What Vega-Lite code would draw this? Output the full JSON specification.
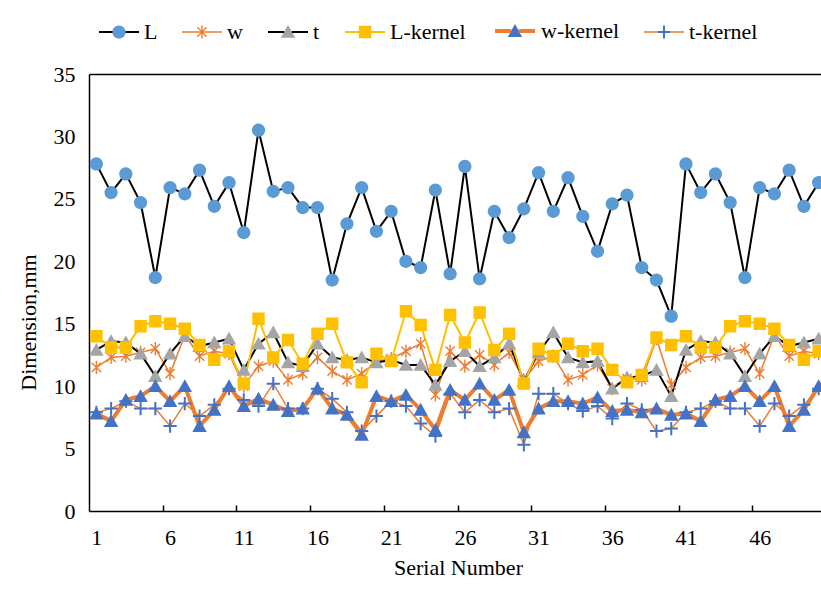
{
  "$schema": "https://vega.github.io/schema/vega-lite/v6.json",
  "autosize": {"type": "none"},
  "padding": {"left": 89, "top": 74, "right": 0, "bottom": 78},
  "width": 732,
  "height": 437,
  "background": "white",
  "config": {"view": {"stroke": null}},
  "data": {"values": [
    {"n":1,"s":"L","v":27.8},{"n":2,"s":"L","v":25.5},{"n":3,"s":"L","v":27.0},{"n":4,"s":"L","v":24.7},{"n":5,"s":"L","v":18.7},{"n":6,"s":"L","v":25.9},{"n":7,"s":"L","v":25.4},{"n":8,"s":"L","v":27.3},{"n":9,"s":"L","v":24.4},{"n":10,"s":"L","v":26.3},
    {"n":11,"s":"L","v":22.3},{"n":12,"s":"L","v":30.5},{"n":13,"s":"L","v":25.6},{"n":14,"s":"L","v":25.9},{"n":15,"s":"L","v":24.3},{"n":16,"s":"L","v":24.3},{"n":17,"s":"L","v":18.5},{"n":18,"s":"L","v":23.0},{"n":19,"s":"L","v":25.9},{"n":20,"s":"L","v":22.4},
    {"n":21,"s":"L","v":24.0},{"n":22,"s":"L","v":20.0},{"n":23,"s":"L","v":19.5},{"n":24,"s":"L","v":25.7},{"n":25,"s":"L","v":19.0},{"n":26,"s":"L","v":27.6},{"n":27,"s":"L","v":18.6},{"n":28,"s":"L","v":24.0},{"n":29,"s":"L","v":21.9},{"n":30,"s":"L","v":24.2},
    {"n":31,"s":"L","v":27.1},{"n":32,"s":"L","v":24.0},{"n":33,"s":"L","v":26.7},{"n":34,"s":"L","v":23.6},{"n":35,"s":"L","v":20.8},{"n":36,"s":"L","v":24.6},{"n":37,"s":"L","v":25.3},{"n":38,"s":"L","v":19.5},{"n":39,"s":"L","v":18.5},{"n":40,"s":"L","v":15.6},
    {"n":41,"s":"L","v":27.8},{"n":42,"s":"L","v":25.5},{"n":43,"s":"L","v":27.0},{"n":44,"s":"L","v":24.7},{"n":45,"s":"L","v":18.7},{"n":46,"s":"L","v":25.9},{"n":47,"s":"L","v":25.4},{"n":48,"s":"L","v":27.3},{"n":49,"s":"L","v":24.4},{"n":50,"s":"L","v":26.3},

    {"n":1,"s":"w","v":11.5},{"n":2,"s":"w","v":12.3},{"n":3,"s":"w","v":12.4},{"n":4,"s":"w","v":12.7},{"n":5,"s":"w","v":13.0},{"n":6,"s":"w","v":11.0},{"n":7,"s":"w","v":14.1},{"n":8,"s":"w","v":12.4},{"n":9,"s":"w","v":12.8},{"n":10,"s":"w","v":12.6},
    {"n":11,"s":"w","v":10.0},{"n":12,"s":"w","v":11.6},{"n":13,"s":"w","v":12.0},{"n":14,"s":"w","v":10.5},{"n":15,"s":"w","v":11.0},{"n":16,"s":"w","v":12.3},{"n":17,"s":"w","v":11.2},{"n":18,"s":"w","v":10.5},{"n":19,"s":"w","v":11.0},{"n":20,"s":"w","v":12.0},
    {"n":21,"s":"w","v":12.2},{"n":22,"s":"w","v":12.8},{"n":23,"s":"w","v":13.4},{"n":24,"s":"w","v":9.3},{"n":25,"s":"w","v":12.8},{"n":26,"s":"w","v":11.6},{"n":27,"s":"w","v":12.5},{"n":28,"s":"w","v":11.7},{"n":29,"s":"w","v":12.7},{"n":30,"s":"w","v":10.5},
    {"n":31,"s":"w","v":12.0},{"n":32,"s":"w","v":12.4},{"n":33,"s":"w","v":10.5},{"n":34,"s":"w","v":10.9},{"n":35,"s":"w","v":11.7},{"n":36,"s":"w","v":9.8},{"n":37,"s":"w","v":10.6},{"n":38,"s":"w","v":10.5},{"n":39,"s":"w","v":13.8},{"n":40,"s":"w","v":10.1},
    {"n":41,"s":"w","v":11.5},{"n":42,"s":"w","v":12.3},{"n":43,"s":"w","v":12.4},{"n":44,"s":"w","v":12.7},{"n":45,"s":"w","v":13.0},{"n":46,"s":"w","v":11.0},{"n":47,"s":"w","v":14.1},{"n":48,"s":"w","v":12.4},{"n":49,"s":"w","v":12.8},{"n":50,"s":"w","v":12.6},

    {"n":1,"s":"t","v":12.9},{"n":2,"s":"t","v":13.6},{"n":3,"s":"t","v":13.5},{"n":4,"s":"t","v":12.6},{"n":5,"s":"t","v":10.8},{"n":6,"s":"t","v":12.6},{"n":7,"s":"t","v":14.0},{"n":8,"s":"t","v":13.2},{"n":9,"s":"t","v":13.5},{"n":10,"s":"t","v":13.8},
    {"n":11,"s":"t","v":11.3},{"n":12,"s":"t","v":13.4},{"n":13,"s":"t","v":14.3},{"n":14,"s":"t","v":11.9},{"n":15,"s":"t","v":11.6},{"n":16,"s":"t","v":13.4},{"n":17,"s":"t","v":12.3},{"n":18,"s":"t","v":12.1},{"n":19,"s":"t","v":12.3},{"n":20,"s":"t","v":11.9},
    {"n":21,"s":"t","v":12.1},{"n":22,"s":"t","v":11.7},{"n":23,"s":"t","v":11.7},{"n":24,"s":"t","v":10.1},{"n":25,"s":"t","v":12.0},{"n":26,"s":"t","v":12.8},{"n":27,"s":"t","v":11.6},{"n":28,"s":"t","v":12.3},{"n":29,"s":"t","v":13.4},{"n":30,"s":"t","v":10.4},
    {"n":31,"s":"t","v":12.7},{"n":32,"s":"t","v":14.3},{"n":33,"s":"t","v":12.3},{"n":34,"s":"t","v":11.9},{"n":35,"s":"t","v":12.0},{"n":36,"s":"t","v":9.8},{"n":37,"s":"t","v":10.7},{"n":38,"s":"t","v":10.8},{"n":39,"s":"t","v":11.3},{"n":40,"s":"t","v":9.2},
    {"n":41,"s":"t","v":12.9},{"n":42,"s":"t","v":13.6},{"n":43,"s":"t","v":13.5},{"n":44,"s":"t","v":12.6},{"n":45,"s":"t","v":10.8},{"n":46,"s":"t","v":12.6},{"n":47,"s":"t","v":14.0},{"n":48,"s":"t","v":13.2},{"n":49,"s":"t","v":13.5},{"n":50,"s":"t","v":13.8},

    {"n":1,"s":"L-kernel","v":14.0},{"n":2,"s":"L-kernel","v":13.1},{"n":3,"s":"L-kernel","v":13.1},{"n":4,"s":"L-kernel","v":14.8},{"n":5,"s":"L-kernel","v":15.2},{"n":6,"s":"L-kernel","v":15.0},{"n":7,"s":"L-kernel","v":14.6},{"n":8,"s":"L-kernel","v":13.3},{"n":9,"s":"L-kernel","v":12.1},{"n":10,"s":"L-kernel","v":12.8},
    {"n":11,"s":"L-kernel","v":10.2},{"n":12,"s":"L-kernel","v":15.4},{"n":13,"s":"L-kernel","v":12.3},{"n":14,"s":"L-kernel","v":13.7},{"n":15,"s":"L-kernel","v":11.8},{"n":16,"s":"L-kernel","v":14.2},{"n":17,"s":"L-kernel","v":15.0},{"n":18,"s":"L-kernel","v":11.9},{"n":19,"s":"L-kernel","v":10.3},{"n":20,"s":"L-kernel","v":12.6},
    {"n":21,"s":"L-kernel","v":12.0},{"n":22,"s":"L-kernel","v":16.0},{"n":23,"s":"L-kernel","v":14.9},{"n":24,"s":"L-kernel","v":11.3},{"n":25,"s":"L-kernel","v":15.7},{"n":26,"s":"L-kernel","v":13.5},{"n":27,"s":"L-kernel","v":15.9},{"n":28,"s":"L-kernel","v":12.9},{"n":29,"s":"L-kernel","v":14.2},{"n":30,"s":"L-kernel","v":10.2},
    {"n":31,"s":"L-kernel","v":13.0},{"n":32,"s":"L-kernel","v":12.4},{"n":33,"s":"L-kernel","v":13.4},{"n":34,"s":"L-kernel","v":12.8},{"n":35,"s":"L-kernel","v":13.0},{"n":36,"s":"L-kernel","v":11.3},{"n":37,"s":"L-kernel","v":10.3},{"n":38,"s":"L-kernel","v":10.9},{"n":39,"s":"L-kernel","v":13.9},{"n":40,"s":"L-kernel","v":13.3},
    {"n":41,"s":"L-kernel","v":14.0},{"n":42,"s":"L-kernel","v":13.1},{"n":43,"s":"L-kernel","v":13.1},{"n":44,"s":"L-kernel","v":14.8},{"n":45,"s":"L-kernel","v":15.2},{"n":46,"s":"L-kernel","v":15.0},{"n":47,"s":"L-kernel","v":14.6},{"n":48,"s":"L-kernel","v":13.3},{"n":49,"s":"L-kernel","v":12.1},{"n":50,"s":"L-kernel","v":12.8},

    {"n":1,"s":"w-kernel","v":7.8},{"n":2,"s":"w-kernel","v":7.2},{"n":3,"s":"w-kernel","v":8.9},{"n":4,"s":"w-kernel","v":9.2},{"n":5,"s":"w-kernel","v":10.0},{"n":6,"s":"w-kernel","v":8.8},{"n":7,"s":"w-kernel","v":10.0},{"n":8,"s":"w-kernel","v":6.8},{"n":9,"s":"w-kernel","v":8.1},{"n":10,"s":"w-kernel","v":10.0},
    {"n":11,"s":"w-kernel","v":8.4},{"n":12,"s":"w-kernel","v":9.0},{"n":13,"s":"w-kernel","v":8.5},{"n":14,"s":"w-kernel","v":8.0},{"n":15,"s":"w-kernel","v":8.2},{"n":16,"s":"w-kernel","v":9.8},{"n":17,"s":"w-kernel","v":8.2},{"n":18,"s":"w-kernel","v":7.7},{"n":19,"s":"w-kernel","v":6.1},{"n":20,"s":"w-kernel","v":9.2},
    {"n":21,"s":"w-kernel","v":8.8},{"n":22,"s":"w-kernel","v":9.3},{"n":23,"s":"w-kernel","v":8.1},{"n":24,"s":"w-kernel","v":6.5},{"n":25,"s":"w-kernel","v":9.7},{"n":26,"s":"w-kernel","v":8.9},{"n":27,"s":"w-kernel","v":10.2},{"n":28,"s":"w-kernel","v":8.9},{"n":29,"s":"w-kernel","v":9.7},{"n":30,"s":"w-kernel","v":6.3},
    {"n":31,"s":"w-kernel","v":8.2},{"n":32,"s":"w-kernel","v":8.8},{"n":33,"s":"w-kernel","v":8.8},{"n":34,"s":"w-kernel","v":8.6},{"n":35,"s":"w-kernel","v":9.1},{"n":36,"s":"w-kernel","v":8.0},{"n":37,"s":"w-kernel","v":8.1},{"n":38,"s":"w-kernel","v":7.9},{"n":39,"s":"w-kernel","v":8.2},{"n":40,"s":"w-kernel","v":7.7},
    {"n":41,"s":"w-kernel","v":7.8},{"n":42,"s":"w-kernel","v":7.2},{"n":43,"s":"w-kernel","v":8.9},{"n":44,"s":"w-kernel","v":9.2},{"n":45,"s":"w-kernel","v":10.0},{"n":46,"s":"w-kernel","v":8.8},{"n":47,"s":"w-kernel","v":10.0},{"n":48,"s":"w-kernel","v":6.8},{"n":49,"s":"w-kernel","v":8.1},{"n":50,"s":"w-kernel","v":10.0},

    {"n":1,"s":"t-kernel","v":7.9},{"n":2,"s":"t-kernel","v":8.2},{"n":3,"s":"t-kernel","v":8.8},{"n":4,"s":"t-kernel","v":8.2},{"n":5,"s":"t-kernel","v":8.2},{"n":6,"s":"t-kernel","v":6.8},{"n":7,"s":"t-kernel","v":8.6},{"n":8,"s":"t-kernel","v":7.6},{"n":9,"s":"t-kernel","v":8.5},{"n":10,"s":"t-kernel","v":9.8},
    {"n":11,"s":"t-kernel","v":8.9},{"n":12,"s":"t-kernel","v":8.4},{"n":13,"s":"t-kernel","v":10.2},{"n":14,"s":"t-kernel","v":8.2},{"n":15,"s":"t-kernel","v":8.2},{"n":16,"s":"t-kernel","v":9.8},{"n":17,"s":"t-kernel","v":9.0},{"n":18,"s":"t-kernel","v":7.9},{"n":19,"s":"t-kernel","v":6.4},{"n":20,"s":"t-kernel","v":7.6},
    {"n":21,"s":"t-kernel","v":8.8},{"n":22,"s":"t-kernel","v":8.4},{"n":23,"s":"t-kernel","v":7.0},{"n":24,"s":"t-kernel","v":6.0},{"n":25,"s":"t-kernel","v":9.4},{"n":26,"s":"t-kernel","v":7.9},{"n":27,"s":"t-kernel","v":8.9},{"n":28,"s":"t-kernel","v":7.9},{"n":29,"s":"t-kernel","v":8.2},{"n":30,"s":"t-kernel","v":5.3},
    {"n":31,"s":"t-kernel","v":9.4},{"n":32,"s":"t-kernel","v":9.4},{"n":33,"s":"t-kernel","v":8.6},{"n":34,"s":"t-kernel","v":8.0},{"n":35,"s":"t-kernel","v":8.4},{"n":36,"s":"t-kernel","v":7.4},{"n":37,"s":"t-kernel","v":8.6},{"n":38,"s":"t-kernel","v":8.1},{"n":39,"s":"t-kernel","v":6.4},{"n":40,"s":"t-kernel","v":6.6},
    {"n":41,"s":"t-kernel","v":7.9},{"n":42,"s":"t-kernel","v":8.2},{"n":43,"s":"t-kernel","v":8.8},{"n":44,"s":"t-kernel","v":8.2},{"n":45,"s":"t-kernel","v":8.2},{"n":46,"s":"t-kernel","v":6.8},{"n":47,"s":"t-kernel","v":8.6},{"n":48,"s":"t-kernel","v":7.6},{"n":49,"s":"t-kernel","v":8.5},{"n":50,"s":"t-kernel","v":9.8}
  ]},
  "encoding": {
    "y": {
      "field": "v", "type": "quantitative",
      "scale": {"domain": [0, 35], "nice": false, "zero": false},
      "axis": {
        "values": [0, 5, 10, 15, 20, 25, 30, 35],
        "ticks": false, "grid": false,
        "labelPadding": 14,
        "labelFont": "Liberation Serif", "labelFontSize": 22, "labelColor": "black",
        "domainColor": "black", "domainWidth": 1.5,
        "title": "Dimension,mm",
        "titleFont": "Liberation Serif", "titleFontSize": 22, "titleFontWeight": "normal", "titleColor": "black",
        "titlePadding": 13, "titleY": 248
      }
    }
  },
  "layer": [
    {
      "mark": {"type": "line", "clip": true},
      "encoding": {
        "x": {
          "field": "n", "type": "quantitative",
          "scale": {"domain": [0.5, 50.16], "nice": false, "zero": false},
          "axis": {
            "orient": "bottom",
            "values": [1, 5.5, 6, 10.5, 11, 15.5, 16, 20.5, 21, 25.5, 26, 30.5, 31, 35.5, 36, 40.5, 41, 45.5, 46],
            "labelExpr": "datum.value % 1 === 0 ? '' + datum.value : ''",
            "tickSize": -6, "tickColor": "black", "tickWidth": 1.5,
            "tickOpacity": {"condition": {"test": "datum.value % 1 !== 0", "value": 1}, "value": 0},
            "labelPadding": 22, "labelFlush": false, "labelOverlap": false,
            "labelFont": "Liberation Serif", "labelFontSize": 22, "labelColor": "black",
            "grid": false, "domainColor": "black", "domainWidth": 1.5,
            "title": "Serial Number",
            "titleFont": "Liberation Serif", "titleFontSize": 22, "titleFontWeight": "normal", "titleColor": "black",
            "titlePadding": 9, "titleX": 369
          }
        },
        "stroke": {
          "field": "s", "type": "nominal",
          "scale": {"domain": ["L", "w", "t", "L-kernel", "w-kernel", "t-kernel"], "range": ["#000000", "#ED7D31", "#000000", "#FFC000", "#ED7D31", "#ED7D31"]},
          "legend": {
            "orient": "none", "legendX": 9, "legendY": -65, "direction": "horizontal", "title": null,
            "symbolSize": 1600, "labelFont": "Liberation Serif", "labelFontSize": 22, "labelColor": "black",
            "labelOffset": 4, "columnPadding": 21, "padding": 0,
            "encode": {
              "symbols": {
                "update": {
                  "shape": {"scale": "shape", "field": "value"},
                  "fill": {"scale": "fill", "field": "value"},
                  "fillOpacity": {"value": 1},
                  "opacity": {"value": 1},
                  "stroke": {"scale": "stroke", "field": "value"},
                  "strokeWidth": {"scale": "strokeWidth", "field": "value"},
                  "strokeDash": {"signal": "datum.value === 'L' ? [13.6, 12.8, 13.6, 1000] : (datum.value === 't' || datum.value === 'w-kernel') ? [16.2, 7.6, 16.2, 1000] : datum.value === 't-kernel' ? [13.4, 13.2, 13.4, 1000] : [40, 1000]"}
                }
              }
            }
          }
        },
        "strokeWidth": {
          "field": "s", "type": "nominal",
          "scale": {"type": "ordinal", "domain": ["L", "w", "t", "L-kernel", "w-kernel", "t-kernel"], "range": [2, 1.5, 2, 2, 4, 1.5]},
          "legend": null
        }
      }
    },
    {
      "mark": {"type": "point", "filled": true, "size": 1600, "opacity": 1, "strokeWidth": 0, "clip": true},
      "encoding": {
        "x": {
          "field": "n", "type": "quantitative",
          "scale": {"domain": [0.5, 50.16], "nice": false, "zero": false},
          "axis": {"orient": "top", "labels": false, "ticks": false, "grid": false, "title": null, "domainColor": "black", "domainWidth": 1.5}
        },
        "fill": {
          "field": "s", "type": "nominal",
          "scale": {"domain": ["L", "w", "t", "L-kernel", "w-kernel", "t-kernel"], "range": ["#5B9BD5", "#ED7D31", "#A5A5A5", "#FFC000", "#4472C4", "#4472C4"]},
          "legend": null
        },
        "shape": {
          "field": "s", "type": "nominal",
          "scale": {"domain": ["L", "w", "t", "L-kernel", "w-kernel", "t-kernel"], "range": [
            "M-1,0L1,0L0,0L-0.33,0A0.33,0.33,0,1,1,0.33,0A0.33,0.33,0,1,1,-0.33,0L0,0",
            "M-1,0L1,0L0,0L-0.035,-0.33L0.035,-0.33L0.035,0.33L-0.035,0.33L-0.035,-0.33L0,0L-0.208,-0.258L0.258,0.208L0.208,0.258L-0.258,-0.208L-0.208,-0.258L0,0L-0.258,0.208L0.208,-0.258L0.258,-0.208L-0.208,0.258L-0.258,0.208L0,0",
            "M-1,0L1,0L0,0L0,-0.35L0.36,0.29L-0.36,0.29L0,-0.35L0,0",
            "M-1,0L1,0L0,0L-0.31,0L-0.31,-0.31L0.31,-0.31L0.31,0.31L-0.31,0.31L-0.31,0L0,0",
            "M-1,0L1,0L0,0L0,-0.35L0.36,0.29L-0.36,0.29L0,-0.35L0,0",
            "M-1,0L1,0L0,0L-0.33,-0.05L-0.05,-0.05L-0.05,-0.33L0.05,-0.33L0.05,-0.05L0.33,-0.05L0.33,0.05L0.05,0.05L0.05,0.33L-0.05,0.33L-0.05,0.05L-0.33,0.05L-0.33,-0.05L0,0"
          ]},
          "legend": null
        }
      }
    }
  ]
}
